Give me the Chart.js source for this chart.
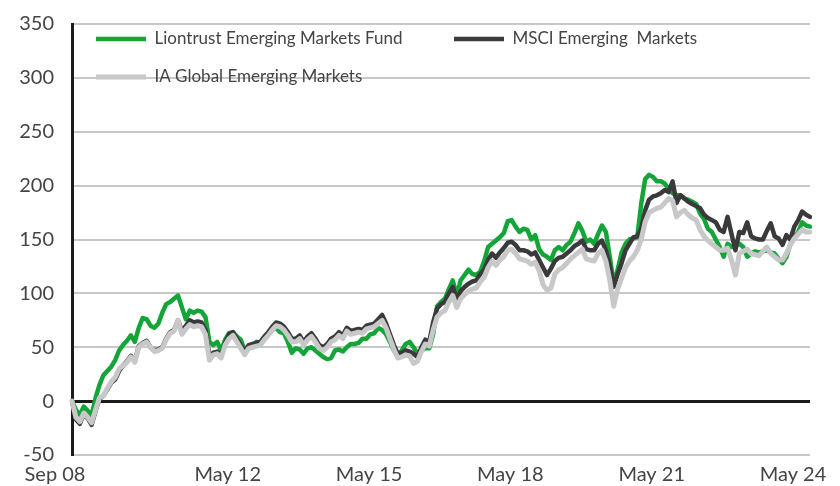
<!DOCTYPE html>
<html>
<head>
<meta charset="utf-8">
<script src="https://cdn.jsdelivr.net/npm/chart.js@4.4.1/dist/chart.umd.min.js"></script>
<style>
  html, body { margin: 0; padding: 0; background: #fff; }
  #wrap { width: 840px; height: 486px; }
</style>
</head>
<body>
<div id="wrap"><canvas id="chart" width="840" height="486"></canvas></div>
<script>
// monthly points, Sep 08 .. May 24
const monthNames = ['Jan','Feb','Mar','Apr','May','Jun','Jul','Aug','Sep','Oct','Nov','Dec'];
const categories = [];
for (let k = 0; k < 189; k++) {
    const m = (8 + k) % 12;
    const y = 2008 + Math.floor((8 + k) / 12);
    categories.push(monthNames[m] + ' ' + String(y).slice(2));
}
const tickLabels = ['Sep 08', 'May 12', 'May 15', 'May 18', 'May 21', 'May 24'];
const yTicks = [-50, 0, 50, 100, 150, 200, 250, 300, 350];

const liontrust = [
    0, -8, -13, -5, -9, -13, 3, 15, 24, 28, 32, 38, 47, 52, 56, 61, 55, 68, 77, 76,
    70, 68, 72, 82, 90, 92, 95, 98, 87, 76, 84, 82, 84, 83, 78, 55, 52, 55, 47, 57,
    63, 64, 60, 57, 47, 50, 50, 55, 54, 58, 62, 66, 68, 64, 63, 55, 45, 49, 48, 44,
    49, 50, 47, 44, 41, 39, 40, 47, 48, 46, 50, 53, 53, 54, 58, 58, 62, 63, 68, 66,
    62, 55, 47, 42, 47, 53, 55, 50, 44, 47, 49, 49, 62, 88, 92, 95, 104, 112, 98, 112,
    117, 122, 118, 117, 120, 130, 143, 146, 149, 152, 156, 167, 168, 162, 157, 160, 159, 150, 154, 141,
    136, 134, 131, 140, 143, 140, 145, 148, 156, 165, 158, 148, 150, 146, 155, 163, 157, 134, 109, 122,
    138, 146, 150, 151, 152, 183, 206, 210, 208, 204, 204, 202, 197, 193, 191, 191, 188, 187, 185, 183,
    174, 169, 160, 157, 150, 143, 134, 146, 143, 144, 146, 143, 134, 137, 139, 138, 139, 140, 138, 137,
    132, 128, 134, 146, 152, 157, 166, 163, 162
];
const msci = [
    0, -17, -21, -12, -16, -22, -9, 2, 5, 11, 17, 20, 28, 33, 37, 42, 37, 51, 54, 56,
    50, 47, 48, 50, 58, 64, 66, 75, 65, 70, 75, 73, 74, 73, 66, 42, 45, 46, 42, 54,
    62, 64, 58, 52, 46, 52, 53, 54, 55, 60, 64, 69, 73, 72, 69, 64, 58, 58, 61, 55,
    60, 63, 58, 52, 50, 53, 58, 60, 64, 61, 68, 65, 66, 67, 66, 70, 71, 72, 76, 80,
    72, 62, 52, 44, 45, 47, 46, 44, 41, 50, 57, 55, 73, 86, 90, 92, 100, 106, 95, 102,
    106, 109, 111, 112, 118, 122, 131, 137, 133, 138, 142, 147, 148, 145, 140, 140, 139, 136, 138, 131,
    124, 117, 123, 130, 133, 134, 137, 140, 144, 146, 149, 141, 140, 140, 146, 149, 140, 126, 106, 118,
    128, 140, 146, 152, 153, 160, 177, 187, 190, 191, 193, 196, 194, 204, 184, 191, 188, 185, 183, 181,
    179, 173, 170, 168, 166, 159, 157, 171, 155, 140, 157, 156, 166, 153, 151, 150, 150, 158, 165, 153,
    151, 145, 154, 150, 162, 168, 176, 173, 171
];
const iaGlobal = [
    0, -15, -19, -11, -15, -20, -8, 3, 5, 12, 18, 22, 30, 33, 36, 41, 36, 50, 53, 55,
    50, 46, 47, 49, 57, 63, 65, 75, 62, 67, 71, 69, 70, 69, 62, 38, 43, 44, 40, 52,
    58, 61, 55, 49, 43, 49, 50, 51, 52, 57, 61, 66, 70, 69, 66, 61, 55, 55, 58, 52,
    57, 60, 55, 49, 47, 50, 55, 57, 61, 58, 65, 62, 63, 64, 63, 67, 68, 69, 72, 75,
    68, 58, 48, 40, 41, 43, 42, 35, 37, 46, 53, 51, 66, 78, 82, 84, 92, 98, 87, 95,
    99, 102, 104, 105, 111, 115, 124, 130, 126, 131, 134, 140, 141, 137, 132, 131, 130, 127, 129, 121,
    108, 103, 105, 118, 122, 124, 128, 132, 135, 138, 141, 132, 131, 130, 137, 140, 130, 112, 88, 104,
    114, 124, 130, 134, 140, 150, 166, 175, 177, 179, 180, 184, 188, 186, 171, 175, 177, 173, 170, 168,
    159, 153, 149, 146, 143, 140, 140, 142, 131, 117, 137, 139, 141, 137, 136, 135, 139, 143, 137, 134,
    131, 131, 137, 145, 151, 155, 159, 157, 157
];

const textColor = '#444444';
const fontFamily = "Lato, 'Open Sans', sans-serif";

// legend sits inside the plot, over the top gridlines
const legendOverlay = {
    id: 'legendOverlay',
    beforeLayout(chart) {
        const lg = chart.legend;
        if (lg && !lg._patched) {
            const origFit = lg.fit.bind(lg);
            lg.fit = function () { origFit(); this.height = 0; };
            lg._patched = true;
        }
    },
    afterLayout(chart) {
        const lg = chart.legend;
        lg.top = 9.5;
        lg.bottom = 120;
        lg.left = 75;
        lg.right = 840;
    }
};

const ctx = document.getElementById('chart').getContext('2d');
const chart = new Chart(ctx, {
    type: 'line',
    data: {
        labels: categories,
        datasets: [
            { label: 'Liontrust Emerging Markets Fund', data: liontrust, borderColor: '#13a538', backgroundColor: '#13a538', borderWidth: 4.5, order: 3 },
            { label: 'MSCI Emerging  Markets', data: msci, borderColor: '#3a3a3c', backgroundColor: '#3a3a3c', borderWidth: 4.5, order: 2 },
            { label: 'IA Global Emerging Markets', data: iaGlobal, borderColor: '#c8c8c8', backgroundColor: '#c8c8c8', borderWidth: 5, order: 1 }
        ]
    },
    plugins: [legendOverlay],
    options: {
        responsive: false,
        animation: false,
        layout: { padding: { top: 24, right: 30, bottom: 0, left: 0 } },
        elements: { point: { radius: 0 }, line: { tension: 0, borderJoinStyle: 'round', borderCapStyle: 'round' } },
        plugins: {
            tooltip: { enabled: false },
            legend: {
                position: 'top',
                align: 'start',
                labels: {
                    usePointStyle: true,
                    pointStyle: 'line',
                    pointStyleWidth: 50,
                    padding: 21,
                    color: textColor,
                    font: { family: fontFamily, size: 17 },
                    sort: (a, b) => a.datasetIndex - b.datasetIndex,
                    generateLabels: (chart) => {
                        const items = Chart.defaults.plugins.legend.labels.generateLabels(chart);
                        // widen the first entry so the second one lands further right
                        items.forEach(it => { if (it.datasetIndex === 0) it.text = it.text + '       '; });
                        return items;
                    }
                }
            }
        },
        scales: {
            x: {
                offset: false,
                grid: { display: false, drawTicks: false },
                border: { display: false },
                afterFit: (scale) => { scale.height = 31; scale.paddingLeft = 0; scale.paddingRight = 0; },
                ticks: {
                    autoSkip: false,
                    maxRotation: 0,
                    padding: 8,
                    labelOffset: -17,
                    color: textColor,
                    font: { family: fontFamily, size: 20 },
                    callback: function (value) {
                        const lab = this.getLabelForValue(value);
                        return tickLabels.includes(lab) ? lab : '';
                    }
                }
            },
            y: {
                min: -50,
                max: 350,
                afterBuildTicks: (scale) => { scale.ticks = yTicks.map(v => ({ value: v })); },
                afterFit: (scale) => { scale.width = 72; scale.paddingTop = 0; scale.paddingBottom = 0; },
                border: { display: true, color: '#1a1a1a', width: 3 },
                grid: {
                    drawTicks: false,
                    color: (c) => (c.tick && c.tick.value === 0 ? '#1a1a1a' : '#c8c8c8'),
                    lineWidth: (c) => (c.tick && c.tick.value === 0 ? 3 : 2)
                },
                ticks: {
                    padding: 18,
                    color: textColor,
                    font: { family: fontFamily, size: 20 }
                }
            }
        }
    }
});
</script>
</body>
</html>
